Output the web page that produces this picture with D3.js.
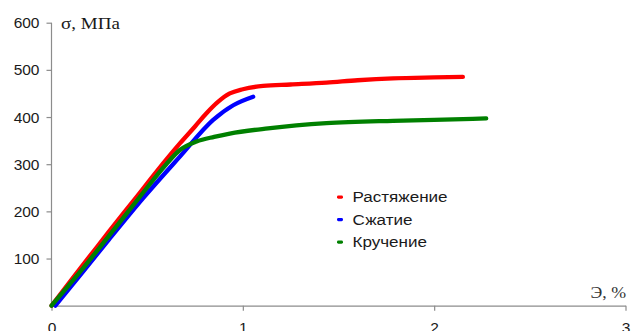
<!DOCTYPE html>
<html>
<head>
<meta charset="utf-8">
<script src="https://cdn.jsdelivr.net/npm/d3@7"></script>
<style>
  html, body { margin: 0; padding: 0; background: #fff; }
  svg { display: block; }
</style>
</head>
<body>
<svg id="chart" width="634" height="331"></svg>
<script>
// Stress–strain curves: strain (%) against stress (MPa)
const seriesNames = ["Растяжение", "Сжатие", "Кручение"];
const seriesColors = ["#ff0000", "#0000ff", "#008000"];

const tensionStrain = [0, 0.1, 0.2, 0.3, 0.445, 0.55, 0.671, 0.75, 0.81, 0.87, 0.932, 1.0, 1.106, 1.25, 1.437, 1.6, 1.785, 2.0, 2.15];
const tensionStress = [0, 53, 105, 157, 231, 285, 344, 380, 408, 432, 450, 459, 466, 469, 473, 478, 482, 484, 485];

const compressionStrain = [0.02, 0.15, 0.3, 0.479, 0.671, 0.845, 0.95, 1.054];
const compressionStress = [0, 65, 140, 228, 316, 394, 425, 443];

const torsionStrain = [0, 0.15, 0.3, 0.462, 0.6, 0.671, 0.758, 0.85, 0.932, 1.132, 1.437, 1.785, 2.0, 2.272];
const torsionStress = [0, 72, 148, 231, 300, 330, 348, 358, 365, 376, 387, 392, 394, 397];

const xTicks = [0, 1, 2, 3];
const yTicks = [100, 200, 300, 400, 500, 600];

const svg = d3.select("#chart");

const x = d3.scaleLinear().domain([0, 3]).range([51.5, 625.5]);
const y = d3.scaleLinear().domain([0, 600]).range([305.7, 22.7]);

const axisColor = "#8c8c8c";
const textColor = "#1a1a1a";
const sans = "'Liberation Sans', Arial, sans-serif";
const serif = "'Liberation Serif', 'Times New Roman', serif";

// Y axis
const gy = svg.append("g")
  .attr("transform", `translate(${x(0)},0)`)
  .call(d3.axisLeft(y).tickValues(yTicks).tickFormat(d3.format("d"))
    .tickSize(5).tickSizeOuter(0).tickPadding(7));
gy.select(".domain").attr("stroke", axisColor).attr("stroke-width", 1.2)
  .attr("d", `M0,${y(0)}V${y(600)}`);
gy.selectAll(".tick line").attr("stroke", axisColor).attr("stroke-width", 1.2);
gy.selectAll(".tick text")
  .attr("fill", textColor)
  .style("font-family", sans)
  .style("font-size", "15.5px");

// X axis
const gx = svg.append("g")
  .attr("transform", `translate(0,${y(0)})`)
  .call(d3.axisBottom(x).tickValues(xTicks).tickFormat(d3.format("d"))
    .tickSize(5).tickSizeOuter(0).tickPadding(11));
gx.select(".domain").attr("stroke", axisColor).attr("stroke-width", 1.2);
gx.selectAll(".tick line").attr("stroke", axisColor).attr("stroke-width", 1.2);
gx.selectAll(".tick text")
  .attr("fill", textColor)
  .style("font-family", sans)
  .style("font-size", "15.5px");

// Axis titles
svg.append("text")
  .attr("transform", "translate(61,29) scale(1.12,1)")
  .attr("fill", textColor)
  .style("font-family", serif)
  .style("font-size", "17px")
  .text("σ, МПа");

svg.append("text")
  .attr("transform", "translate(626,297.5) scale(1.05,1)")
  .attr("text-anchor", "end")
  .attr("fill", "#333")
  .style("font-family", serif)
  .style("font-size", "17px")
  .text("Э, %");

// Curves
const line = d3.line()
  .x(d => x(d[0]))
  .y(d => y(d[1]))
  .curve(d3.curveMonotoneX);

const series = [
  d3.zip(tensionStrain, tensionStress),
  d3.zip(compressionStrain, compressionStress),
  d3.zip(torsionStrain, torsionStress)
];

svg.append("g")
  .selectAll("path")
  .data(series)
  .join("path")
  .attr("d", line)
  .attr("fill", "none")
  .attr("stroke", (d, i) => seriesColors[i])
  .attr("stroke-width", 4.3)
  .attr("stroke-linecap", "round")
  .attr("stroke-linejoin", "round");

// Legend
const legend = svg.append("g").attr("transform", "translate(337,202)");
const items = legend.selectAll("g")
  .data(seriesNames)
  .join("g")
  .attr("transform", (d, i) => `translate(0,${i * 22.5})`);
items.append("rect")
  .attr("x", 0).attr("y", -6.5)
  .attr("width", 6).attr("height", 3.2)
  .attr("rx", 1.4)
  .attr("fill", (d, i) => seriesColors[i]);
items.append("text")
  .attr("transform", "translate(15.5,0) scale(1.1,1)")
  .attr("fill", textColor)
  .style("font-family", sans)
  .style("font-size", "15.5px")
  .text(d => d);
</script>
</body>
</html>
